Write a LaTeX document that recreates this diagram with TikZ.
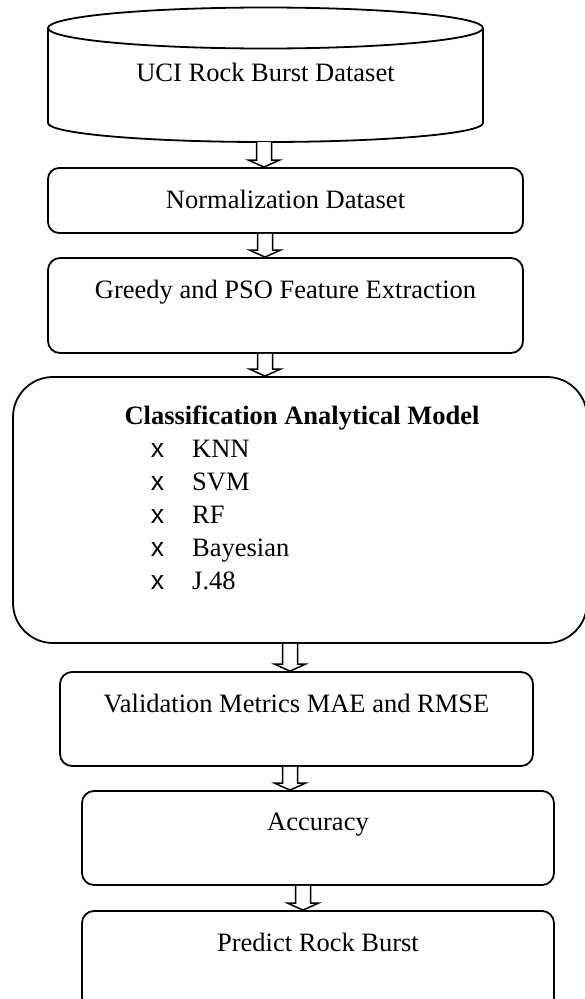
\documentclass[tikz,border=0pt]{standalone}
\usepackage{fontspec}
\setmainfont{Liberation Serif}
\newfontfamily\bulletfont{Liberation Sans}
\usetikzlibrary{calc}

\tikzset{
  stage/.style={draw, line width=1.8pt, rounded corners=11pt, inner sep=0pt},
  bigstage/.style={stage, rounded corners=40pt},
  cyl/.style={line width=1.8pt},
  caption/.style={font=\fontsize{26.5}{30}\selectfont, anchor=base, inner sep=0pt},
  item/.style={caption, anchor=base west},
  bullet/.style={caption, font=\bulletfont\fontsize{26.5}{30}\selectfont},
  arrowline/.style={draw, line width=1.5pt, fill=white, line join=miter},
}

% hollow block arrow at horizontal position #1 from point #2 down to point #3
\newcommand\hollowarrow[3]{%
  \draw[arrowline] let \p1=(#2), \p2=(#3) in
    (#1pt-7.5pt,\y1) -- (#1pt-7.5pt,\y2+7pt) -- (#1pt-15.5pt,\y2+7pt) -- (#1pt,\y2)
    -- (#1pt+15.5pt,\y2+7pt) -- (#1pt+7.5pt,\y2+7pt) -- (#1pt+7.5pt,\y1);}

\begin{document}
\begin{tikzpicture}[x=1pt, y=1pt]
\useasboundingbox (0,0) rectangle (584,-999);

% data store
\draw[cyl] (265.5,-28) ellipse [x radius=217.5pt, y radius=20.5pt];
\draw[cyl] (48,-28) -- (48,-123)
  arc[start angle=180, end angle=360, x radius=217.5pt, y radius=19pt] -- (483,-28);
\coordinate (ucibase) at (265.5,-142);
\node[caption] (uci) at (265.5,-81) {UCI Rock Burst Dataset};

% processing stages
\node[stage, minimum width=475pt, minimum height=65pt] (norm) at (285.5,-200.5) {};
\node[caption] (normtxt) at (285.5,-208) {Normalization Dataset};

\node[stage, rounded corners=12pt, minimum width=475pt, minimum height=95pt] (greedy) at (285.5,-305.5) {};
\node[caption] (greedytxt) at (285.5,-298) {Greedy and PSO Feature Extraction};

\node[bigstage, minimum width=574pt, minimum height=266pt] (model) at (300,-510) {};
\node[caption, font=\bfseries\fontsize{26.5}{30}\selectfont] (modeltxt) at (302,-424) {Classification Analytical Model};
\foreach \name [count=\i from 0] in {KNN, SVM, RF, Bayesian, J.48} {
  \node[bullet] (b\i) at (157.5,-457-33*\i) {x};
  \node[item] (m\i) at (192,-457-33*\i) {\name};
}

\node[stage, rounded corners=12pt, minimum width=473pt, minimum height=94pt] (valid) at (296.5,-719) {};
\node[caption] (validtxt) at (296.5,-712) {Validation Metrics MAE and RMSE};

\node[stage, rounded corners=12pt, minimum width=472pt, minimum height=94pt] (acc) at (318,-838) {};
\node[caption] (acctxt) at (318,-830) {Accuracy};

\node[stage, rounded corners=12pt, minimum width=472pt, minimum height=99pt] (pred) at (318,-960.5) {};
\node[caption] (predtxt) at (318,-951) {Predict Rock Burst};

% connectors
\hollowarrow{264}{ucibase}{norm.north}
\hollowarrow{265}{norm.south}{greedy.north}
\hollowarrow{265}{greedy.south}{model.north}
\hollowarrow{290}{model.south}{valid.north}
\hollowarrow{290}{valid.south}{acc.north}
\hollowarrow{303}{acc.south}{pred.north}
\end{tikzpicture}
\end{document}
